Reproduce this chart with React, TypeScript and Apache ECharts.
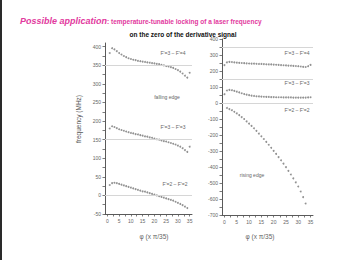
import React, { useEffect, useRef } from "react";
import * as echarts from "echarts";

// Left panel (falling edge), φ starts at 1
const leftF34 = [383, 396, 393, 388, 383, 379, 375, 372, 369, 367, 365, 364, 362, 361, 360, 359, 358, 357, 356, 355, 354, 353, 351, 350, 348, 347, 345, 343, 340, 337, 333, 328, 322, 317, 330];
const leftF33 = [180, 186, 184, 181, 178, 176, 174, 172, 170, 168, 167, 165, 164, 162, 161, 159, 158, 156, 155, 153, 151, 150, 148, 146, 145, 143, 141, 139, 137, 134, 131, 127, 122, 117, 131];
const leftF22 = [28, 33, 34, 33, 31, 29, 27, 25, 23, 21, 19, 17, 15, 13, 11, 10, 8, 6, 4, 2, 0, -2, -4, -6, -8, -10, -12, -14, -17, -20, -23, -26, -30, -34];
// Right panel (rising edge)
const rightF34 = [237, 254, 257, 256, 254, 252, 251, 250, 249, 248, 247, 246, 246, 245, 244, 244, 243, 242, 241, 241, 240, 239, 238, 237, 236, 235, 234, 233, 232, 231, 230, 228, 226, 225, 230, 238]; // φ from 0
const rightF33 = [55, 78, 82, 80, 76, 71, 66, 61, 56, 52, 49, 46, 44, 42, 41, 40, 39, 38, 38, 37, 37, 36, 36, 36, 35, 35, 35, 35, 34, 34, 34, 34, 34, 34, 35, 36]; // φ from 0
const rightF22 = [-31, -38, -45, -55, -65, -76, -88, -100, -115, -129, -143, -158, -174, -191, -208, -225, -243, -261, -280, -299, -318, -338, -358, -379, -401, -424, -447, -471, -496, -522, -553, -588, -628]; // φ from 1

const xLabels = [0, 5, 10, 15, 20, 25, 30, 35];
const xTicks = [0, 2.5, 5, 7.5, 10, 12.5, 15, 17.5, 20, 22.5, 25, 27.5, 30, 32.5, 35];
const leftYLabels = [-50, 0, 50, 100, 150, 200, 250, 300, 350, 400];
const leftYTicks = [-50, -25, 0, 25, 50, 75, 100, 125, 150, 175, 200, 225, 250, 275, 300, 325, 350, 375, 400];
const rightYLabels = [-700, -600, -500, -400, -300, -200, -100, 0, 100, 200, 300, 400];
const rightYTicks = [-700, -650, -600, -550, -500, -450, -400, -350, -300, -250, -200, -150, -100, -50, 0, 50, 100, 150, 200, 250, 300, 350, 400];
const leftRefs = [350, 150, 0];
const rightRefs = [350, 150, 0];

const FONT = "Liberation Sans, Arial, sans-serif";
const AX = "#5a5a5a";

function toPts(vals: number[], start: number) {
  return vals.map((v, i) => [i + start, v]);
}

export default function App() {
  const ref = useRef<HTMLDivElement>(null);
  useEffect(() => {
    const chart = echarts.init(ref.current!, null, { renderer: "svg" });
    const xAxisBase = (gridIndex: number) => ({
      type: "value",
      gridIndex,
      min: -1,
      max: 36,
      splitLine: { show: false },
      axisLine: { onZero: false, lineStyle: { color: AX, width: 1 } },
      axisTick: { customValues: xTicks, length: 2.5, lineStyle: { color: AX, width: 0.8 } },
      axisLabel: { customValues: xLabels, fontSize: 5, color: "#666", margin: 4, fontFamily: FONT },
    });
    const yAxisBase = (gridIndex: number, min: number, max: number, labels: number[], ticks: number[]) => ({
      type: "value",
      gridIndex,
      min,
      max,
      splitLine: { show: false },
      axisLine: { onZero: false, lineStyle: { color: AX, width: 1 } },
      axisTick: { customValues: ticks, length: 2.5, lineStyle: { color: AX, width: 0.8 } },
      axisLabel: { customValues: labels, fontSize: 5, color: "#666", margin: 4, fontFamily: FONT },
    });
    const sc = (xi: number, data: number[][], refVal: number) => ({
      type: "scatter",
      xAxisIndex: xi,
      yAxisIndex: xi,
      data,
      symbol: "circle",
      symbolSize: 1.9,
      itemStyle: { color: "#777" },
      silent: true,
      markLine: {
        silent: true,
        symbol: "none",
        label: { show: false },
        lineStyle: { color: "#d6d6d6", type: "solid", width: 1 },
        data: [{ yAxis: refVal }],
      },
    });
    const txt = (x: number, y: number, text: string, size = 5, extra: any = {}) => ({
      type: "text",
      x,
      y,
      style: {
        text,
        fontSize: size,
        fill: "#666",
        fontFamily: FONT,
        align: "center",
        verticalAlign: "middle",
        ...extra,
      },
    });
    chart.setOption({
      animation: false,
      backgroundColor: "#fff",
      grid: [
        { left: 105, top: 43, width: 87, height: 171 },
        { left: 222, top: 39, width: 91, height: 176 },
      ],
      xAxis: [xAxisBase(0), xAxisBase(1)],
      yAxis: [
        yAxisBase(0, -50, 410, leftYLabels, leftYTicks),
        yAxisBase(1, -700, 400, rightYLabels, rightYTicks),
      ],
      series: [
        sc(0, toPts(leftF34, 1), leftRefs[0]),
        sc(0, toPts(leftF33, 1), leftRefs[1]),
        sc(0, toPts(leftF22, 1), leftRefs[2]),
        sc(1, toPts(rightF34, 0), rightRefs[0]),
        sc(1, toPts(rightF33, 0), rightRefs[1]),
        sc(1, toPts(rightF22, 1), rightRefs[2]),
      ],
      graphic: [
        { type: "rect", shape: { x: 0, y: 0, width: 2, height: 260 }, style: { fill: "#2a2a2a" } },
        {
          type: "text",
          x: 20,
          y: 21,
          style: {
            text: "{a|Possible application}{b|: temperature-tunable locking of a laser frequency}",
            verticalAlign: "middle",
            rich: {
              a: { fontSize: 9, fontStyle: "italic", fontWeight: "bold", fill: "#e23a9e", fontFamily: FONT },
              b: { fontSize: 6.5, fontWeight: "bold", fill: "#e23a9e", fontFamily: FONT },
            },
          },
        },
        txt(183, 34, "on the zero of the derivative signal", 6.5, { fill: "#111", fontWeight: "bold" }),
        txt(78, 119, "frequency (MHz)", 6.5, { fill: "#555" }) as any,
        txt(154, 236, "φ (x π/35)", 6.5),
        txt(260, 236, "φ (x π/35)", 6.5),
        txt(173, 53, "F'=3 – F'=4"),
        txt(167, 97, "falling edge"),
        txt(173, 127, "F'=3 – F'=3"),
        txt(175, 184, "F'=2 – F'=2"),
        txt(297, 53, "F'=3 – F'=4"),
        txt(297, 83, "F'=3 – F'=3"),
        txt(297, 110, "F'=2 – F'=2"),
        txt(252, 175, "rising edge"),
      ].map((g: any, i: number) => (i === 3 ? { ...g, rotation: Math.PI / 2 } : g)),
    });
    return () => chart.dispose();
  }, []);
  return (
    <div
      ref={ref}
      style={{ position: "fixed", left: 0, top: 0, width: 350, height: 260, background: "#fff" }}
    />
  );
}
